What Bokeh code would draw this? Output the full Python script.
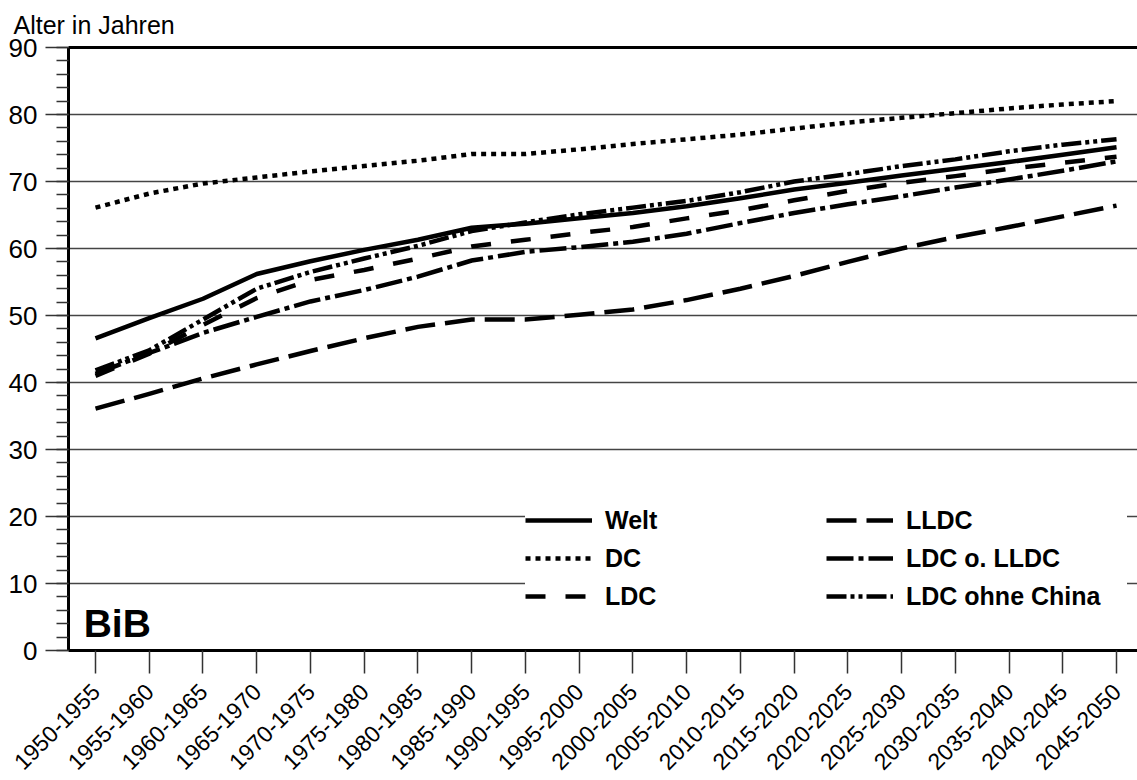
import math
from bokeh.plotting import figure
from bokeh.models import (Range1d, FixedTicker, SingleIntervalTicker, LinearAxis,
                          Legend, LegendItem, Label, ColumnDataSource)
from bokeh.embed import file_html
from bokeh.resources import INLINE

periods = ["1950-1955", "1955-1960", "1960-1965", "1965-1970", "1970-1975",
           "1975-1980", "1980-1985", "1985-1990", "1990-1995", "1995-2000",
           "2000-2005", "2005-2010", "2010-2015", "2015-2020", "2020-2025",
           "2025-2030", "2030-2035", "2035-2040", "2040-2045", "2045-2050"]

welt = [46.6, 49.6, 52.5, 56.2, 58.1, 59.8, 61.3, 63.1, 63.7, 64.5,
        65.3, 66.3, 67.5, 68.8, 69.8, 70.9, 71.9, 72.9, 74.0, 75.1]
dc = [66.1, 68.2, 69.7, 70.6, 71.5, 72.3, 73.1, 74.1, 74.1, 74.8,
      75.6, 76.3, 77.0, 77.9, 78.8, 79.5, 80.2, 80.9, 81.5, 82.0]
ldc = [41.0, 44.3, 48.6, 52.6, 55.3, 56.8, 58.5, 60.3, 61.3, 62.3,
       63.2, 64.5, 65.7, 67.2, 68.6, 69.8, 70.8, 71.9, 72.8, 73.7]
lldc = [36.1, 38.3, 40.6, 42.7, 44.7, 46.6, 48.3, 49.4, 49.4, 50.1,
        50.9, 52.3, 54.0, 55.9, 58.0, 60.0, 61.7, 63.2, 64.8, 66.4]
ldc_o_lldc = [41.3, 44.4, 47.4, 49.8, 52.1, 53.8, 55.8, 58.2, 59.5, 60.2,
              61.0, 62.2, 63.8, 65.3, 66.6, 67.8, 69.1, 70.3, 71.6, 73.0]
ldc_ohne_china = [41.8, 44.8, 49.4, 54.0, 56.5, 58.5, 60.4, 62.6, 63.9, 65.1,
                  66.1, 67.1, 68.4, 70.0, 71.1, 72.3, 73.3, 74.5, 75.5, 76.3]

series_labels = ["Welt", "DC", "LDC", "LLDC", "LDC o. LLDC", "LDC ohne China"]
series_keys = ["welt", "dc", "ldc", "lldc", "ldc_o_lldc", "ldc_ohne_china"]

idx = list(range(len(periods)))
source = ColumnDataSource(dict(x=idx, welt=welt, dc=dc, ldc=ldc, lldc=lldc,
                               ldc_o_lldc=ldc_o_lldc, ldc_ohne_china=ldc_ohne_china))

FONT = "Liberation Sans"

p = figure(width=1137, height=780,
           x_range=Range1d(-0.5025, 19.39), y_range=Range1d(0, 90),
           output_backend="svg", toolbar_location=None,
           min_border_left=68, min_border_top=45, min_border_right=0,
           min_border_bottom=126, outline_line_color=None)

p.title.text = "Alter in Jahren"
p.title.text_font = FONT
p.title.text_font_size = "25px"
p.title.text_font_style = "normal"
p.title.text_color = "black"
p.title.align = "left"
p.title.offset = -55
p.title.text_line_height = 0.8
p.title.standoff = 17

# y axis
yax = p.left[0]
yax.ticker = SingleIntervalTicker(interval=10, num_minor_ticks=5)
yax.axis_line_width = 3
yax.axis_line_color = "black"
yax.major_tick_out = 23
yax.major_tick_in = 0
yax.minor_tick_out = 12
yax.minor_tick_in = 0
yax.major_tick_line_color = "#333333"
yax.major_tick_line_width = 1.5
yax.minor_tick_line_color = "#333333"
yax.minor_tick_line_width = 1.5
yax.major_label_text_font = FONT
yax.major_label_text_font_size = "26px"
yax.major_label_text_color = "black"
yax.major_label_standoff = 8

# x axis (below)
xax = p.below[0]
xax.ticker = FixedTicker(ticks=idx)
xax.major_label_overrides = {i: lab for i, lab in enumerate(periods)}
xax.major_label_orientation = math.pi / 4
xax.axis_line_width = 3
xax.axis_line_color = "black"
xax.major_tick_out = 23
xax.major_tick_in = 0
xax.minor_tick_line_color = None
xax.major_tick_line_color = "#333333"
xax.major_tick_line_width = 1.5
xax.major_label_text_font = FONT
xax.major_label_text_font_size = "23px"
xax.major_label_text_color = "black"
xax.major_label_text_line_height = 0.8
xax.major_label_standoff = 14

# top border line
top_axis = LinearAxis(ticker=FixedTicker(ticks=[]), axis_line_width=3,
                      axis_line_color="black", major_tick_out=0, major_tick_in=0,
                      minor_tick_out=0, minor_tick_in=0,
                      major_label_text_font_size="0px",
                      major_label_standoff=0)
p.add_layout(top_axis, "above")

p.xgrid.grid_line_color = None
p.ygrid.ticker = FixedTicker(ticks=[10, 20, 30, 40, 50, 60, 70, 80])
p.ygrid.grid_line_color = "#444444"
p.ygrid.grid_line_width = 1.5

dashes = ["solid", "5 5", "20 20", "30 10", "27 5 5 5", "20 4 4 4 4 4"]
LW = 4.5
renderers = []
for key, dash in zip(series_keys, dashes):
    r = p.line("x", key, source=source, line_color="black", line_width=LW,
               line_dash=dash, line_join="round" if dash == "solid" else "miter")
    renderers.append(r)

legend = Legend(items=[LegendItem(label=lab, renderers=[r])
                       for lab, r in zip(series_labels, renderers)],
                ncols=2, location=(457, 35),
                glyph_width=67, glyph_height=38, label_height=38, label_width=221,
                spacing=0, padding=13, margin=0, label_standoff=13,
                label_text_font=FONT, label_text_font_size="25px",
                label_text_font_style="bold", label_text_color="black",
                background_fill_color="white", background_fill_alpha=1.0,
                border_line_color=None)
p.add_layout(legend)

p.add_layout(Label(x=-0.22, y=4.1, text="BiB", text_font=FONT,
                   text_font_size="39px", text_font_style="bold",
                   text_color="black", text_baseline="alphabetic"))

open("out.html", "w").write(file_html(p, INLINE))
